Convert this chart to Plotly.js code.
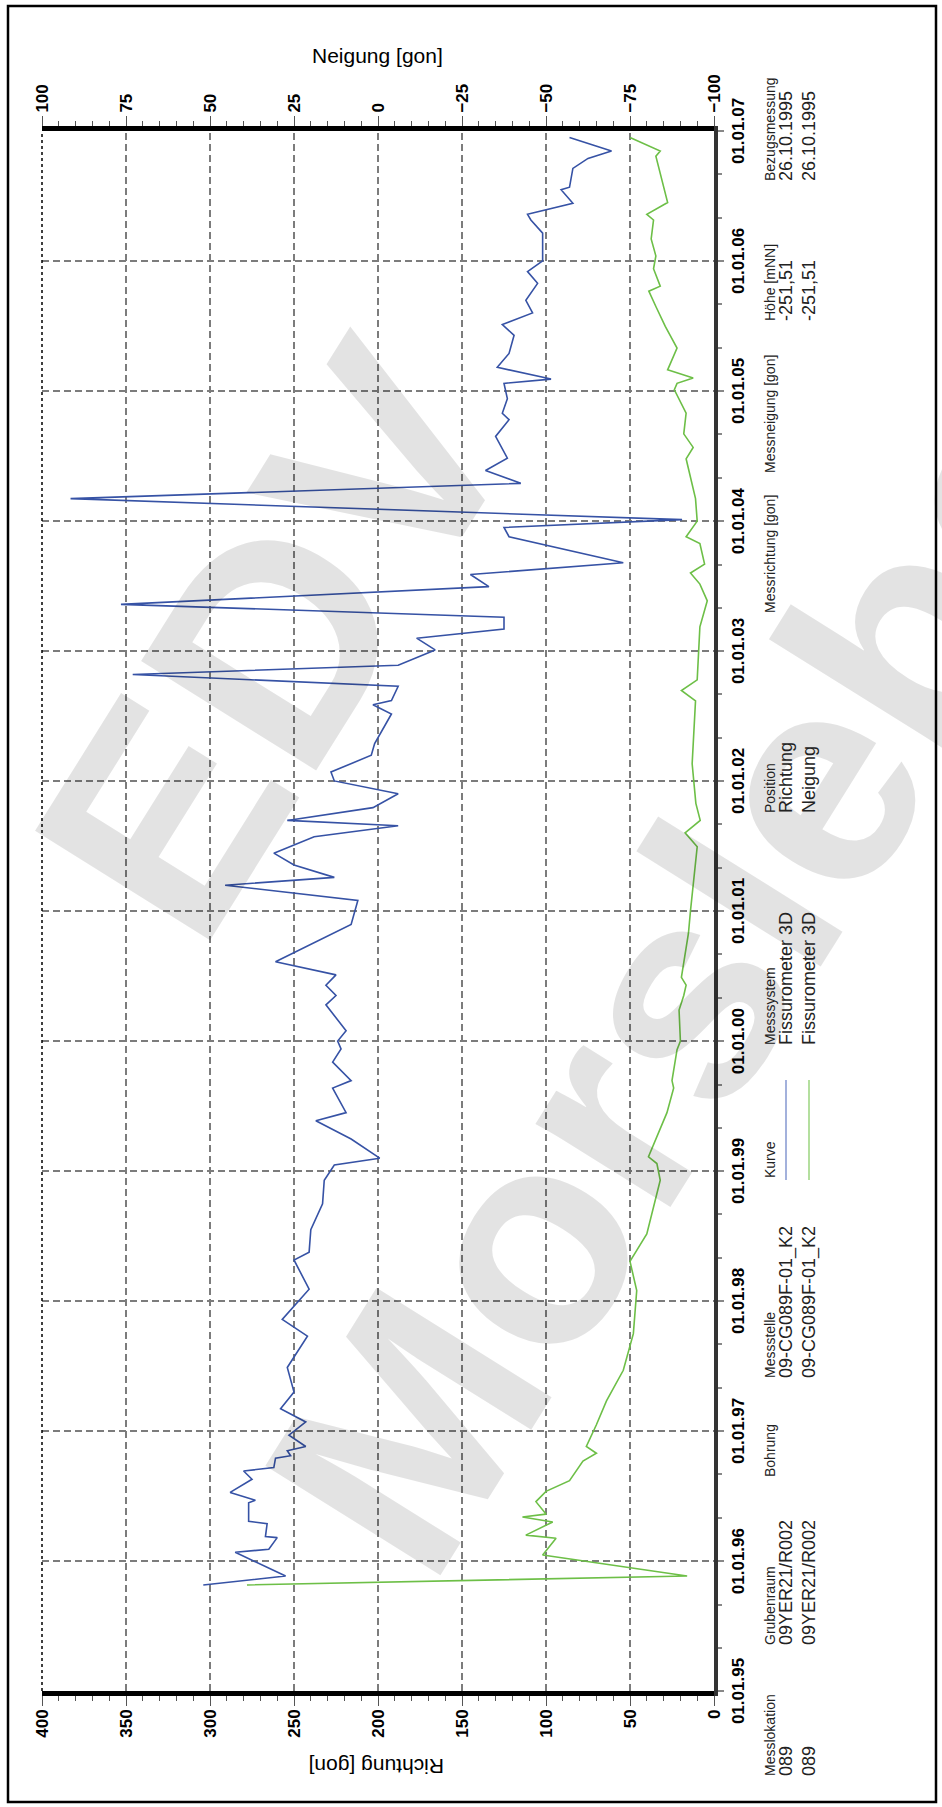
<!DOCTYPE html>
<html>
<head>
<meta charset="utf-8">
<script src="https://cdn.plot.ly/plotly-3.0.1.min.js"></script>
<style>
  html, body { margin:0; padding:0; width:942px; height:1807px; overflow:hidden; background:#fff; }
  #wrap { position:absolute; left:0; top:0; width:1807px; height:942px;
          transform-origin:0 0; transform: translateY(1807px) rotate(-90deg); }
  #chart { width:1807px; height:942px; }
</style>
</head>
<body>
<div id="wrap"><div id="chart"></div></div>
<script>
// ---------------- data ----------------
const richtungDates = [
 '1995-10-26','1995-11-20','1996-01-26','1996-02-03','1996-03-07','1996-03-10','1996-04-15','1996-04-22',
 '1996-06-13','1996-06-20','1996-07-12','1996-08-18','1996-09-10','1996-09-20','1996-10-16','1996-10-23',
 '1996-11-06','1996-11-18','1996-12-20','1997-01-26','1997-03-04','1997-04-20','1997-06-28','1997-09-24',
 '1997-11-10','1998-02-03','1998-04-26','1998-05-18','1998-07-20','1998-10-01','1998-12-06','1999-01-18',
 '1999-02-06','1999-04-01','1999-05-22','1999-06-14','1999-08-22','1999-09-12','1999-11-03','1999-12-10',
 '2000-01-01','2000-01-30','2000-04-12','2000-05-08','2000-06-06','2000-07-05','2000-08-11','2000-11-24',
 '2001-01-30','2001-03-14','2001-04-05','2001-05-10','2001-06-12','2001-07-28','2001-08-28','2001-09-12',
 '2001-10-18','2001-11-26','2002-01-01','2002-01-26','2002-03-14','2002-04-16','2002-07-08','2002-08-03',
 '2002-08-15','2002-09-24','2002-10-27','2002-11-22','2003-01-04','2003-02-06','2003-03-04','2003-04-06',
 '2003-05-12','2003-07-01','2003-08-04','2003-09-06','2003-11-18','2003-12-14','2004-01-05','2004-03-04',
 '2004-04-16','2004-05-22','2004-06-26','2004-08-26','2004-10-12','2004-10-30','2004-12-10','2005-01-22',
 '2005-02-03','2005-03-08','2005-04-16','2005-06-06','2005-07-06','2005-08-08','2005-09-12','2005-10-30',
 '2005-12-02','2006-01-01','2006-03-20','2006-04-26','2006-05-12','2006-06-12','2006-07-20','2006-07-27',
 '2006-09-18','2006-10-16','2006-11-06','2006-12-14'];
const richtungValues = [
 304,255,285,265,260,267,266,277,
 277,273,288,275,280,262,261,252,
 254,243,253,243,258,250,254,242,
 257,241,250,241,240,233,232,226,
 199,216,237,219,227,216,227,222,
 224,219,231,225,231,225,261,216,
 212,291,226,250,262,238,188,254,
 203,188,226,228,204,202,192,203,
 192,188,346,188,166,177,125,125,
 353,134,145,54,122,125,19,383,
 115,136,123,130,122,126,123,125,
 97,129,122,119,126,108,112,105,
 111,102,102,109,111,84,91,86,
 84,75,61,86];

const neigungDates = [
 '1995-10-26','1995-11-20','1996-01-18','1996-03-05','1996-03-14','1996-04-20','1996-05-04','1996-05-12',
 '1996-06-16','1996-07-15','1996-08-14','1996-10-08','1996-10-30','1996-11-18','1997-01-18','1997-03-26',
 '1997-06-20','1997-10-01','1998-01-30','1998-04-22','1998-07-08','1998-12-06','1999-01-22','1999-02-10',
 '1999-06-14','1999-08-22','1999-09-12','1999-12-08','2000-01-01','2000-03-28','2000-05-08','2000-06-06',
 '2000-06-28','2000-10-30','2001-01-01','2001-06-30','2001-08-08','2001-09-12','2001-10-30','2002-02-18',
 '2002-08-14','2002-09-12','2002-10-12','2003-03-10','2003-05-22','2003-07-08','2003-08-08','2003-09-02',
 '2003-10-30','2003-11-18','2004-01-01','2004-03-04','2004-06-24','2004-07-26','2004-09-02','2004-10-30',
 '2005-01-04','2005-01-22','2005-02-06','2005-03-01','2005-05-01','2005-07-01','2005-08-26','2005-10-08',
 '2005-10-22','2005-12-10','2006-01-15','2006-03-04','2006-04-26','2006-05-12','2006-06-14','2006-09-02',
 '2006-10-22','2006-11-06','2006-12-14'];
const neigungValues = [
 39,-92,-49,-53,-44,-52,-43,-50,
 -47,-50,-57,-61,-65,-62,-65,-68,
 -73,-76,-77,-75,-80,-84,-83,-80.5,
 -86,-88,-87.5,-89,-90,-89.6,-91,-91.7,
 -90.3,-92.4,-93,-95,-91.4,-95.9,-94.6,-93.5,
 -94.5,-90.3,-95,-95.8,-98,-95.8,-93,-97.2,
 -95.8,-91.7,-95,-94.5,-91.7,-93.8,-91,-91.7,
 -88.2,-89,-93.8,-86.2,-89,-85.5,-82.7,-80.6,
 -84,-82,-82.7,-81.3,-82,-80,-86.2,-84,
 -82.7,-84,-75];

const tableHeaders = ['Messlokation','Grubenraum','Bohrung','Messstelle','Kurve','Messsystem','Position',
                      'Messrichtung [gon]','Messneigung [gon]','Höhe [mNN]','Bezugsmessung'];
const tableRow1 = ['089','09YER21/R002','','09-CG089F-01_K2','','Fissurometer 3D','Richtung','','','-251,51','26.10.1995'];
const tableRow2 = ['089','09YER21/R002','','09-CG089F-01_K2','','Fissurometer 3D','Neigung','','','-251,51','26.10.1995'];
const richtungTitle = 'Richtung [gon]';
const neigungTitle = 'Neigung [gon]';
const watermark = ['EDV', 'Morsleben'];

// ---------------- layout helpers (landscape frame, rotated by CSS) ----------------
const W = 1807, H = 942, ML = 116, MR = 131, MT = 42, MB = 228;
const PW = W - ML - MR, PH = H - MT - MB;
const fx = X => (X - ML) / PW;
const fy = Y => 1 - (Y - MT) / PH;

const narrow = 'Liberation Sans Narrow, Arial Narrow, Liberation Sans, Arial, sans-serif';
const sans = 'Liberation Sans, Arial, sans-serif';
const BLUE = '#3652a5', GREEN = '#6dbf47';

const colX = [29,160,328,427,627,760,992,1192,1332,1484,1624];
const rowY = [770, 786, 809];

const annotations = [];
// watermark first (drawn underneath other annotations)
annotations.push({text: watermark[0], x: fx(1167), y: fy(275), xref:'paper', yref:'paper', textangle:32,
  xanchor:'center', yanchor:'middle',
  showarrow:false, font:{family:sans, size:300, color:'rgba(0,0,0,0.11)', weight:'bold'}});
annotations.push({text: watermark[1], x: fx(906), y: fy(739), xref:'paper', yref:'paper', textangle:32,
  xanchor:'center', yanchor:'middle',
  showarrow:false, font:{family:sans, size:300, color:'rgba(0,0,0,0.11)', weight:'bold'}});

tableHeaders.forEach((t, i) => {
  annotations.push({text: t, x: fx(colX[i]), y: fy(rowY[0]), xref:'paper', yref:'paper',
    xanchor:'left', yanchor:'middle', showarrow:false, font:{family:sans, size:14, color:'#222'}});
  if (tableRow1[i]) annotations.push({text: tableRow1[i], x: fx(colX[i]), y: fy(rowY[1]), xref:'paper', yref:'paper',
    xanchor:'left', yanchor:'middle', showarrow:false, font:{family:sans, size:18, color:'#222'}});
  if (tableRow2[i]) annotations.push({text: tableRow2[i], x: fx(colX[i]), y: fy(rowY[2]), xref:'paper', yref:'paper',
    xanchor:'left', yanchor:'middle', showarrow:false, font:{family:sans, size:18, color:'#222'}});
});
annotations.push({text: richtungTitle, x: fx(40), y: fy(377), xref:'paper', yref:'paper', textangle:-90,
  showarrow:false, xanchor:'center', yanchor:'middle', font:{family:narrow, size:21, color:'#000'}});
annotations.push({text: neigungTitle, x: fx(1752), y: fy(377), xref:'paper', yref:'paper', textangle:90,
  showarrow:false, xanchor:'center', yanchor:'middle', font:{family:narrow, size:21, color:'#000'}});

const shapes = [
  // outer frame
  {type:'rect', xref:'paper', yref:'paper', x0:fx(5), x1:fx(1801), y0:fy(936), y1:fy(8),
   line:{color:'#000', width:2.5}, fillcolor:'rgba(0,0,0,0)'},
  // dotted top edge of plot
  {type:'line', xref:'paper', yref:'paper', x0:0, x1:1, y0:1, y1:1, line:{color:'#000', width:1.5, dash:'dot'}},
  // legend line samples
  {type:'line', xref:'paper', yref:'paper', x0:fx(627), x1:fx(727), y0:fy(rowY[1]), y1:fy(rowY[1]), line:{color:'#8597d0', width:1.5}},
  {type:'line', xref:'paper', yref:'paper', x0:fx(627), x1:fx(727), y0:fy(rowY[2]), y1:fy(rowY[2]), line:{color:'#9bd47f', width:1.5}}
];

const traces = [
  {x: richtungDates, y: richtungValues, type:'scatter', mode:'lines', yaxis:'y',
   line:{color:BLUE, width:1.6}, hoverinfo:'skip'},
  {x: neigungDates, y: neigungValues, type:'scatter', mode:'lines', yaxis:'y2',
   line:{color:GREEN, width:1.6}, hoverinfo:'skip'}
];

const gridStyle = {showgrid:true, gridcolor:'#7c7c7c', gridwidth:1.5, griddash:'7px,4px'};

const layout = {
  width: W, height: H,
  margin: {l:ML, r:MR, t:MT, b:MB, pad:0},
  paper_bgcolor:'#fff', plot_bgcolor:'#fff',
  showlegend:false,
  xaxis: Object.assign({
    type:'date', range:['1995-01-01','2007-01-01'], tick0:'1995-01-01', dtick:'M12',
    tickformat:'%d.%m.%y', ticks:'outside', ticklen:6, tickwidth:2, tickcolor:'#888',
    ticklabelstandoff:0,
    minor:{dtick:'M4', ticks:'outside', ticklen:4, tickwidth:2, tickcolor:'#888', showgrid:false},
    showline:true, linecolor:'#333', linewidth:4, zeroline:false,
    tickfont:{family:narrow, size:17, color:'#000', weight:'bold'}
  }, gridStyle),
  yaxis: Object.assign({
    range:[0,400], dtick:50, tick0:0, side:'left',
    ticks:'outside', ticklen:10, tickwidth:1, tickcolor:'#555',
    minor:{dtick:10, ticks:'outside', ticklen:5, tickwidth:1, tickcolor:'#555', showgrid:false},
    showline:true, linecolor:'#000', linewidth:5, zeroline:false,
    tickfont:{family:narrow, size:17, color:'#000', weight:'bold'}
  }, gridStyle),
  yaxis2: {
    range:[-100,100], dtick:25, tick0:0, side:'right', overlaying:'y',
    ticks:'outside', ticklen:10, tickwidth:1, tickcolor:'#555',
    minor:{dtick:5, ticks:'outside', ticklen:5, tickwidth:1, tickcolor:'#555', showgrid:false},
    showline:true, linecolor:'#000', linewidth:5, zeroline:false, showgrid:false,
    tickfont:{family:narrow, size:17, color:'#000', weight:'bold'}
  },
  annotations: annotations,
  shapes: shapes
};

Plotly.newPlot('chart', traces, layout, {staticPlot:true, displayModeBar:false});
</script>
</body>
</html>
